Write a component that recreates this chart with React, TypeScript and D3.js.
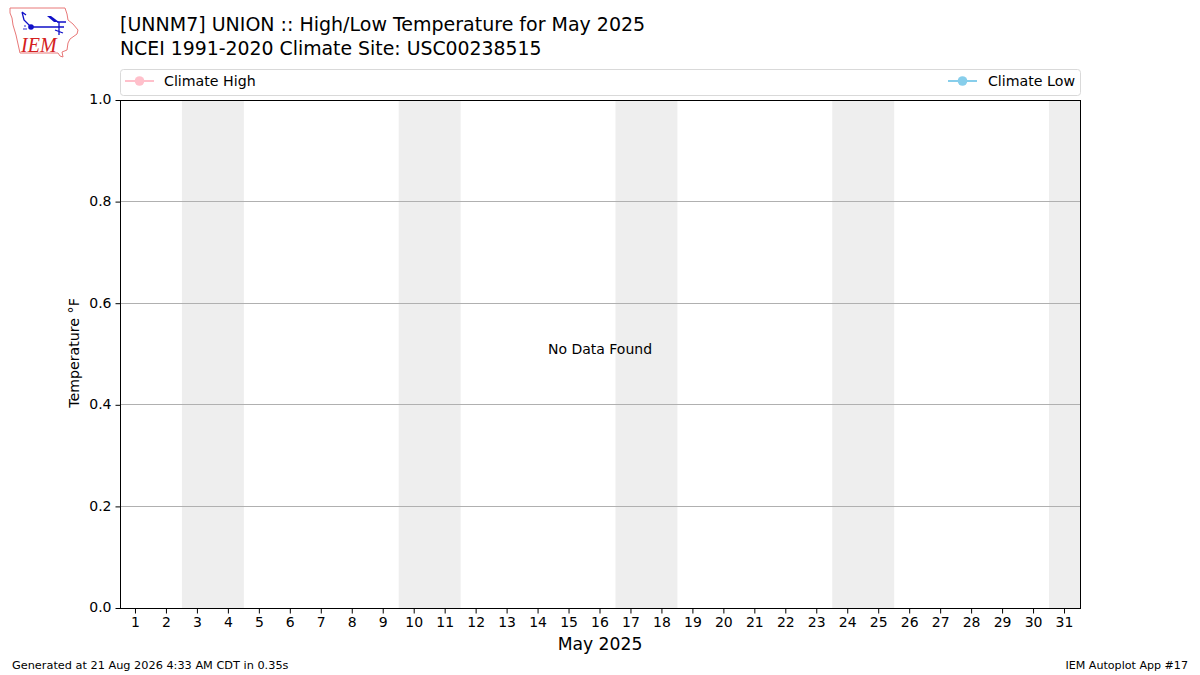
import { useEffect, useRef } from "react";
import * as d3 from "d3";

const days = d3.range(1, 32);
const weekendStarts = [3, 10, 17, 24, 31];
const yTicks = [0, 0.2, 0.4, 0.6, 0.8, 1.0];
const legendItems = ["Climate High", "Climate Low"];
const legendColors = ["#ffc0cb", "#87ceeb"];
const titleLines = [
  "[UNNM7] UNION :: High/Low Temperature for May 2025",
  "NCEI 1991-2020 Climate Site: USC00238515",
];

const font = "'DejaVu Sans', sans-serif";

// Iowa outline of the IEM logo, in page pixels
const iowaOutline =
  "M10,8 L65,8 L67,14 L68,20 L73,24 L78,30 L77,34 L70,39 L68,43 L67,50 L62,52 L63,57 L60,56 L58,53 L20,53 L18,44 L16,35 L13,25 L12,18 L10,13 Z";

export default function App() {
  const svgRef = useRef<SVGSVGElement>(null);

  useEffect(() => {
    const margin = { top: 100, right: 120, bottom: 67, left: 120 };
    const width = 1200 - margin.left - margin.right;
    const height = 675 - margin.top - margin.bottom;

    const svg = d3.select(svgRef.current);
    svg.selectAll("*").remove();

    svg.append("rect").attr("width", 1200).attr("height", 675).attr("fill", "#fff");

    const x = d3.scaleLinear().domain([0.5, 31.5]).range([0, width]);
    const y = d3.scaleLinear().domain([0, 1]).range([height, 0]);

    const g = svg
      .append("g")
      .attr("transform", `translate(${margin.left},${margin.top})`);

    // Weekend bands
    g.selectAll("rect.band")
      .data(weekendStarts)
      .enter()
      .append("rect")
      .attr("class", "band")
      .attr("x", (d) => x(d - 0.5))
      .attr("y", 0)
      .attr("width", (d) => x(Math.min(d + 1.5, 31.5)) - x(d - 0.5))
      .attr("height", height)
      .attr("fill", "#eeeeee");

    // Grid
    g.selectAll("line.grid")
      .data(yTicks)
      .enter()
      .append("line")
      .attr("class", "grid")
      .attr("x1", 0)
      .attr("x2", width)
      .attr("y1", (d) => Math.floor(y(d)) + 0.5)
      .attr("y2", (d) => Math.floor(y(d)) + 0.5)
      .attr("stroke", "#b0b0b0")
      .attr("stroke-width", 1);

    // Axes
    const xAxis = g
      .append("g")
      .attr("transform", `translate(0,${height + 0.5})`)
      .call(d3.axisBottom(x).offset(0).tickValues(days).tickFormat(d3.format("d")).tickSize(5).tickPadding(4));
    const yAxis = g
      .append("g")
      .attr("transform", "translate(0.5,0)")
      .call(d3.axisLeft(y).offset(0).tickValues(yTicks).tickFormat(d3.format(".1f")).tickSize(5).tickPadding(4));

    [xAxis, yAxis].forEach((a) => {
      a.selectAll("text")
        .attr("fill", "#000")
        .attr("font-size", "14")
        .attr("font-family", font);
      a.selectAll(".tick line").attr("stroke", "#000").attr("stroke-width", 1);
      a.select(".domain").remove();
    });
    yAxis.selectAll(".tick line").attr("transform", "translate(0,0.5)");

    // Frame
    g.append("rect")
      .attr("x", 0.5)
      .attr("y", 0.5)
      .attr("width", width)
      .attr("height", height)
      .attr("fill", "none")
      .attr("stroke", "#000")
      .attr("stroke-width", 1);

    // Labels
    const label = (px: number, py: number, text: string, size: number, anchor = "start") =>
      svg
        .append("text")
        .attr("x", px)
        .attr("y", py)
        .attr("font-family", font)
        .attr("font-size", size)
        .attr("fill", "#000")
        .attr("text-anchor", anchor)
        .text(text);

    label(120, 31, titleLines[0], 19);
    label(120, 54.5, titleLines[1], 18.87);
    label(600, 354, "No Data Found", 14, "middle");
    label(600, 650, "May 2025", 17.2, "middle");
    label(12, 669, "Generated at 21 Aug 2026 4:33 AM CDT in 0.35s", 11.3);
    label(1188, 669, "IEM Autoplot App #17", 11.1, "end");

    svg
      .append("text")
      .attr("transform", "translate(79,353) rotate(-90)")
      .attr("text-anchor", "middle")
      .attr("font-family", font)
      .attr("font-size", 14.2)
      .attr("fill", "#000")
      .text("Temperature °F");

    // Legend box
    svg
      .append("rect")
      .attr("x", 120.5)
      .attr("y", 69.5)
      .attr("width", 960)
      .attr("height", 26)
      .attr("rx", 3)
      .attr("fill", "#fff")
      .attr("stroke", "#d9d9d9")
      .attr("stroke-width", 1);

    const drawKey = (x0: number, color: string) => {
      svg
        .append("line")
        .attr("x1", x0)
        .attr("x2", x0 + 29)
        .attr("y1", 81)
        .attr("y2", 81)
        .attr("stroke", color)
        .attr("stroke-width", 2);
      svg
        .append("circle")
        .attr("cx", x0 + 14.5)
        .attr("cy", 81)
        .attr("r", 4.8)
        .attr("fill", color);
    };
    drawKey(125, legendColors[0]);
    label(164, 86, legendItems[0], 14.2);
    drawKey(948, legendColors[1]);
    label(1075, 86, legendItems[1], 14.2, "end");

    // IEM logo
    const logo = svg.append("g");
    logo
      .append("path")
      .attr("d", iowaOutline)
      .attr("fill", "#fff")
      .attr("stroke", "#e87878")
      .attr("stroke-width", 1);
    logo
      .append("path")
      .attr(
        "d",
        "M31,27 L64,27 M57,22 L66,22 M59,22 L59,35 M55,30 L63,33 M22,12 L24,20 L31,27 M22,12 L26,15"
      )
      .attr("fill", "none")
      .attr("stroke", "#1010c8")
      .attr("stroke-width", 1.3);
    logo
      .append("path")
      .attr("d", "M47,16 L51,16 L59,22 L54,22 Z")
      .attr("fill", "#1010c8");
    logo.append("circle").attr("cx", 31).attr("cy", 27).attr("r", 2.8).attr("fill", "#1010c8");
    logo
      .selectAll("circle.drop")
      .data([
        [24, 29],
        [26, 29],
        [25, 26],
      ])
      .enter()
      .append("circle")
      .attr("class", "drop")
      .attr("cx", (d) => d[0])
      .attr("cy", (d) => d[1])
      .attr("r", 0.8)
      .attr("fill", "#1010c8");
    logo
      .append("text")
      .attr("x", 21)
      .attr("y", 52)
      .attr("font-family", "'Liberation Serif', serif")
      .attr("font-style", "italic")
      .attr("font-size", 20)
      .attr("fill", "#d42020")
      .text("IEM");
  }, []);

  return (
    <svg
      ref={svgRef}
      width={1200}
      height={675}
      style={{ position: "absolute", left: 0, top: 0 }}
    />
  );
}
